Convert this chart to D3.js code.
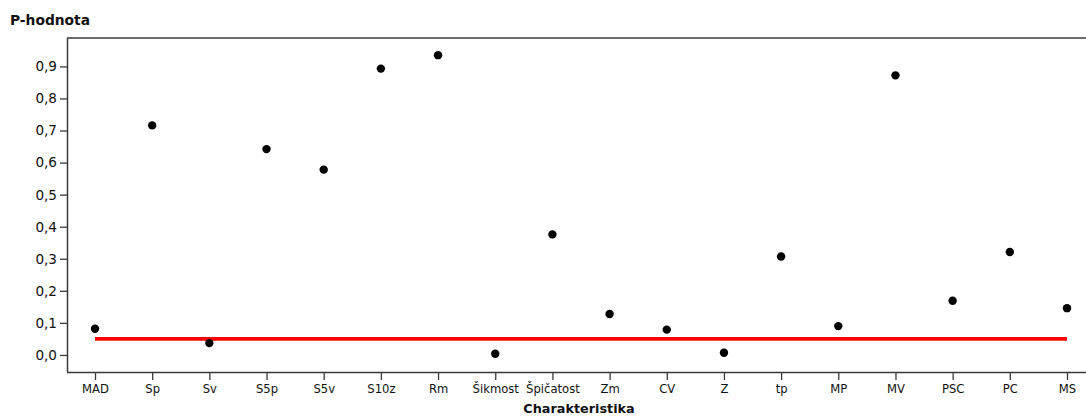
<!DOCTYPE html>
<html><head><meta charset="utf-8">
<script src="https://cdn.jsdelivr.net/npm/d3@7"></script>
<style>body{margin:0;background:#fff}svg{display:block}</style>
</head><body><svg id="c" width="1086" height="416"></svg>
<script>
const categories = ["MAD","Sp","Sv","S5p","S5v","S10z","Rm","Šikmost","Špičatost","Zm","CV","Z","tp","MP","MV","PSC","PC","MS"];
const pValues = [0.082,0.716,0.037,0.642,0.578,0.893,0.935,0.004,0.376,0.128,0.079,0.007,0.307,0.090,0.872,0.169,0.321,0.146];
const threshold = 0.05;
const yTicks = [0,0.1,0.2,0.3,0.4,0.5,0.6,0.7,0.8,0.9];
const yTitle = "P-hodnota";
const xTitle = "Charakteristika";

const svg = d3.select("#c");
const L = 67, T = 38, B = 372, R = 1092;
const font = "DejaVu Sans, Verdana, sans-serif";

const x = d3.scalePoint().domain(categories).range([95, 1067]);
const y = d3.scaleLinear().domain([-0.0531, 0.9885]).range([B, T]);

// frame
svg.append("line").attr("x1",L).attr("x2",R).attr("y1",T).attr("y2",T).attr("stroke","#3a3a3a").attr("stroke-width",1.5);

const yAxis = svg.append("g").attr("transform",`translate(${L},0)`)
  .call(d3.axisLeft(y).tickValues(yTicks).tickSize(7).tickPadding(3).tickFormat(d => d3.format(".1f")(d).replace(".", ",")));
const xAxis = svg.append("g").attr("transform",`translate(0,${B})`)
  .call(d3.axisBottom(x).tickSize(8).tickPadding(5));
xAxis.select(".domain").attr("d", `M${L},0.5H${R}`);
yAxis.select(".domain").attr("d", `M0.5,${T}V${B}`);
[xAxis,yAxis].forEach(g=>{
  g.selectAll(".domain").attr("stroke","#3a3a3a").attr("stroke-width",1.5);
  g.selectAll(".tick line").attr("stroke","#3a3a3a").attr("stroke-width",1.3);
  g.selectAll("text").attr("fill","#111").style("font-family",font);
});
xAxis.selectAll("text").style("font-size","11.6px");
yAxis.selectAll("text").style("font-size","13.6px");

// threshold line
svg.append("line").attr("x1",x(categories[0])).attr("x2",x(categories[categories.length-1]))
  .attr("y1",y(threshold)).attr("y2",y(threshold)).attr("stroke","#ff0000").attr("stroke-width",3.8);

// points
svg.append("g").selectAll("circle").data(categories).join("circle")
  .attr("cx",d=>x(d)).attr("cy",(d,i)=>y(pValues[i])).attr("r",4.2).attr("fill","#000");

svg.append("text").attr("x",10).attr("y",25).text(yTitle)
  .style("font-family",font).style("font-size","13.8px").style("font-weight","bold").attr("fill","#111");
svg.append("text").attr("x",579).attr("y",413).attr("text-anchor","middle").text(xTitle)
  .style("font-family",font).style("font-size","12.8px").style("font-weight","bold").attr("fill","#111");
</script></body></html>
